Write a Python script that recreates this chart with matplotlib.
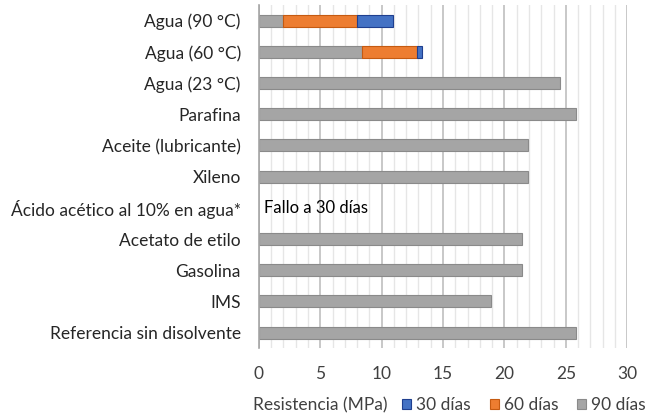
import matplotlib.pyplot as plt
import numpy as np

plt.rcParams['font.family'] = ['Lato', 'DejaVu Sans']

categorias = ['Agua (90 °C)', 'Agua (60 °C)', 'Agua (23 °C)', 'Parafina',
              'Aceite (lubricante)', 'Xileno', 'Ácido acético al 10% en agua*',
              'Acetato de etilo', 'Gasolina', 'IMS', 'Referencia sin disolvente']
# segments stacked left to right: 90 dias, then 60, then 30
dias_90 = [2.0, 8.4, 24.5, 25.8, 21.9, 21.9, 0, 21.4, 21.4, 18.9, 25.8]
dias_60 = [6.0, 4.5, 0, 0, 0, 0, 0, 0, 0, 0, 0]
dias_30 = [2.9, 0.4, 0, 0, 0, 0, 0, 0, 0, 0, 0]

fig = plt.figure(figsize=(6.52, 4.19), dpi=100)
ax = fig.add_axes([0.397, 0.169, 0.565, 0.819])

y = np.arange(len(categorias))
h = 0.38
g = np.array(dias_90)
o = np.array(dias_60)
b = np.array(dias_30)
# skip zero-length segments so no stray edges are drawn
m = g > 0
ax.barh(y[m], g[m], height=h, color='#a5a5a5', edgecolor='#8a8a8a', linewidth=0.8, label='90 días', zorder=3)
m = o > 0
ax.barh(y[m], o[m], left=g[m], height=h, color='#ed7d31', edgecolor='#c55a11', linewidth=0.8, label='60 días', zorder=3)
m = b > 0
ax.barh(y[m], b[m], left=(g + o)[m], height=h, color='#4472c4', edgecolor='#1f3f8f', linewidth=0.8, label='30 días', zorder=3)

ax.text(0.4, 6, 'Fallo a 30 días', va='center', ha='left', fontsize=12, color='black')

ax.set_xlim(0, 30)
ax.set_ylim(10.5, -0.5)
ax.set_yticks(y)
ax.set_yticklabels(categorias, fontsize=12.5)
ax.set_xticks(np.arange(0, 31, 5))
ax.set_xticks(np.arange(0, 31, 1), minor=True)
ax.tick_params(axis='x', which='both', length=0, labelsize=12.5, pad=13, colors='#404040')
ax.tick_params(axis='y', length=0, pad=13, colors='#262626', labelsize=12.5)
ax.grid(axis='x', which='major', color='#bfbfbf', linewidth=1.2, zorder=0)
ax.grid(axis='x', which='minor', color='#e6e6e6', linewidth=1.0, zorder=0)
for s in ['top', 'right', 'bottom']:
    ax.spines[s].set_visible(False)
ax.spines['left'].set_color('#a6a6a6')
ax.spines['left'].set_linewidth(1.2)
ax.spines['left'].set_zorder(4)

fig.text(0.388, 0.033, 'Resistencia (MPa)', fontsize=12.5, color='#404040', va='center')
hs, ls = ax.get_legend_handles_labels()
ax.legend(hs[::-1], ls[::-1], loc='center left', bbox_to_anchor=(0.617, 0.033),
          bbox_transform=fig.transFigure, ncol=3, frameon=False, fontsize=12.5,
          handlelength=0.5, handleheight=0.5, handletextpad=0.3, columnspacing=1.1,
          labelcolor='#404040', borderpad=0, borderaxespad=0)

plt.savefig('out.png', dpi=100)
